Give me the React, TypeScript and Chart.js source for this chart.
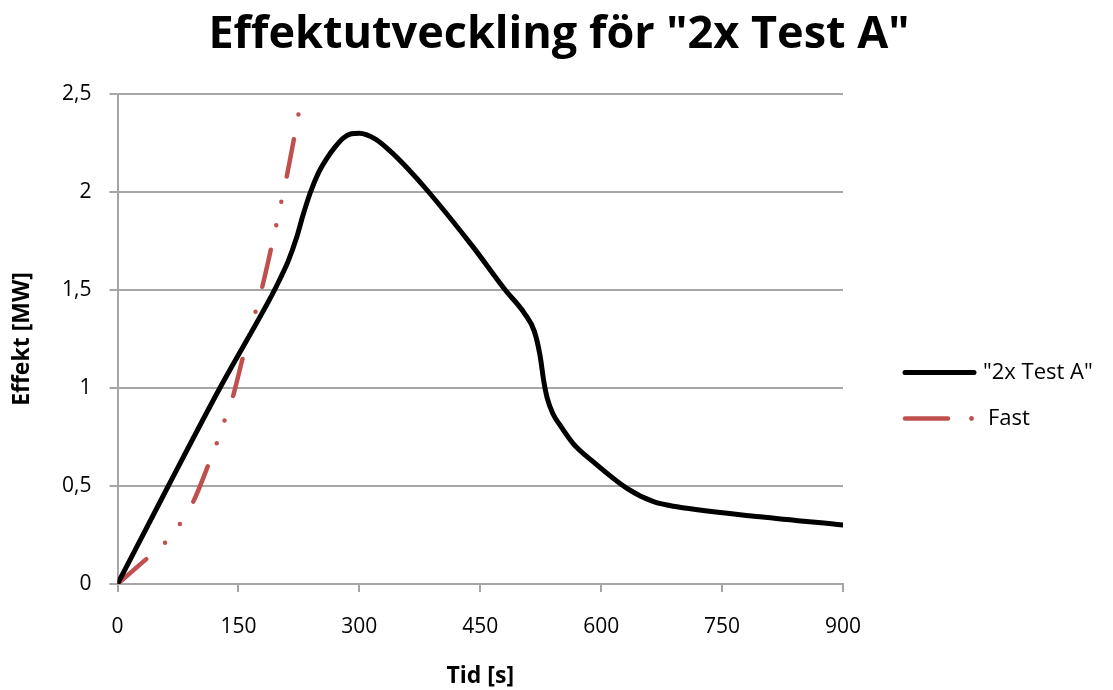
import { useEffect, useRef } from 'react';
import { Chart, registerables } from 'chart.js';

Chart.register(...registerables);

const titleText = 'Effektutveckling för "2x Test A"';
const xTitle = 'Tid [s]';
const yTitle = 'Effekt [MW]';
const seriesNames = ['"2x Test A"', 'Fast'];

const testTimes = [0, 63, 127, 191, 202, 212, 222, 230, 239, 249, 259.5, 270, 280, 290, 300, 320, 338, 360, 386, 441, 481, 505, 517, 524, 529, 533, 540, 549, 565, 590, 632, 665, 694, 797, 900];
const testPower = [0, 0.5, 1.0, 1.47, 1.56, 1.65, 1.765, 1.88, 1.995, 2.095, 2.17, 2.23, 2.275, 2.297, 2.30, 2.27, 2.21, 2.12, 2.0, 1.72, 1.5, 1.38, 1.29, 1.17, 1.03, 0.95, 0.87, 0.81, 0.718, 0.624, 0.488, 0.42, 0.394, 0.343, 0.301];

const fastTimes = [0, 38.7, 60, 78.8, 94, 113.5, 123.8, 133.4, 143.7, 156, 164.4, 171.8, 179.6, 191.3, 197.5, 203.7, 209.9, 219.3, 226];
const fastPower = [0, 0.138, 0.215, 0.315, 0.42, 0.616, 0.726, 0.842, 0.964, 1.163, 1.279, 1.398, 1.517, 1.726, 1.84, 1.959, 2.078, 2.28, 2.43];

const FONT = 'Open Sans';
const RED = '#c0504d';
const GRID = '#a6a6a6';
const FAST_DASH = [38, 25, 0, 24, 0, 26];

const overlayPlugin = {
  id: 'overlay',
  afterDraw(chart: any) {
    const ctx = chart.ctx;
    ctx.save();
    ctx.fillStyle = '#000';
    ctx.font = `bold 45px "${FONT}"`;
    ctx.textAlign = 'center';
    ctx.textBaseline = 'alphabetic';
    ctx.fillText(titleText, 559, 48);
    ctx.lineCap = 'round';
    ctx.strokeStyle = '#000';
    ctx.lineWidth = 5;
    ctx.setLineDash([]);
    ctx.beginPath();
    ctx.moveTo(905, 372.5);
    ctx.lineTo(974, 372.5);
    ctx.stroke();
    ctx.strokeStyle = RED;
    ctx.lineWidth = 4.5;
    ctx.beginPath();
    ctx.moveTo(905, 418.5);
    ctx.lineTo(948, 418.5);
    ctx.stroke();
    ctx.fillStyle = RED;
    ctx.beginPath();
    ctx.arc(971.5, 418.5, 2.4, 0, Math.PI * 2);
    ctx.fill();
    ctx.fillStyle = '#000';
    ctx.font = `22px "${FONT}"`;
    ctx.textBaseline = 'middle';
    ctx.textAlign = 'left';
    ctx.fillText(seriesNames[0], 983, 373);
    ctx.fillText(seriesNames[1], 988, 419);
    ctx.restore();
  },
};

export default function App() {
  const ref = useRef<HTMLCanvasElement>(null);
  useEffect(() => {
    if (!ref.current) return;
    const chart = new Chart(ref.current, {
      type: 'line',
      data: {
        datasets: [
          {
            label: seriesNames[0],
            data: testTimes.map((t, i) => ({ x: t, y: testPower[i] })),
            borderColor: '#000',
            borderWidth: 5,
            pointRadius: 0,
            cubicInterpolationMode: 'monotone',
            fill: false,
            borderCapStyle: 'round',
            borderJoinStyle: 'round',
          },
          {
            label: seriesNames[1],
            data: fastTimes.map((t, i) => ({ x: t, y: fastPower[i] })),
            borderColor: RED,
            borderWidth: 4.5,
            pointRadius: 0,
            cubicInterpolationMode: 'monotone',
            fill: false,
            borderDash: FAST_DASH,
            borderCapStyle: 'round',
            borderJoinStyle: 'round',
          },
        ],
      },
      options: {
        animation: false,
        responsive: false,
        layout: { padding: { left: 0, right: 270, top: 94, bottom: 0 } },
        plugins: {
          legend: { display: false },
          tooltip: { enabled: false },
          title: { display: false },
        },
        scales: {
          x: {
            type: 'linear',
            min: 0,
            max: 900,
            ticks: {
              stepSize: 150,
              color: '#000',
              font: { family: FONT, size: 21 },
              padding: 22,
              maxRotation: 0,
            },
            grid: { drawOnChartArea: false, drawTicks: true, tickLength: 8, color: GRID, lineWidth: 2 },
            border: { color: GRID, width: 2 },
            title: {
              display: true,
              text: xTitle,
              color: '#000',
              font: { family: FONT, size: 23, weight: 'bold' },
              padding: { top: 10, bottom: 0 },
            },
            afterFit: (s: any) => { s.height = 106; },
          },
          y: {
            min: 0,
            max: 2.5,
            ticks: {
              stepSize: 0.5,
              color: '#000',
              font: { family: FONT, size: 21 },
              padding: 18,
              callback: (v: any) => String(v).replace('.', ','),
            },
            grid: { drawTicks: true, tickLength: 8, color: GRID, lineWidth: 2 },
            border: { color: GRID, width: 2 },
            title: {
              display: true,
              text: yTitle,
              color: '#000',
              font: { family: FONT, size: 23, weight: 'bold' },
              padding: { top: 9, bottom: 4 },
            },
            afterFit: (s: any) => { s.width = 117.5; },
          },
        },
      },
      plugins: [overlayPlugin],
    } as any);
    return () => chart.destroy();
  }, []);
  return (
    <div style={{ position: 'fixed', left: 0, top: 0, width: 1113, height: 690, background: '#fff' }}>
      <canvas ref={ref} width={1113} height={690} style={{ width: 1113, height: 690, display: 'block' }} />
    </div>
  );
}
